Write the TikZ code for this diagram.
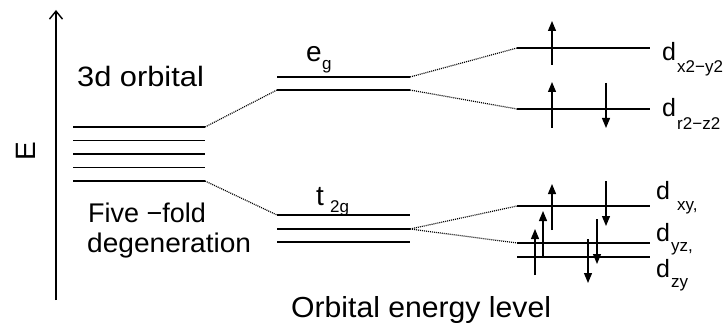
\documentclass[tikz,border=0pt]{standalone}
\usepackage{fontspec}
\setmainfont{Liberation Sans}
\newfontfamily\widefont[FakeStretch=1.1]{Liberation Sans}
\newfontfamily\midfont[FakeStretch=1.04]{Liberation Sans}
\usetikzlibrary{arrows.meta}
\begin{document}
\begin{tikzpicture}[x=1pt,y=-1pt,
  level/.style={line width=1.4pt},
  conn/.style={line width=1.2pt,dash pattern=on 1pt off 1pt},
  spin/.style={line width=1.2pt,-{Triangle[width=8pt,length=10pt]}},
  lbl/.style={anchor=base west,inner sep=0pt,font=\fontsize{27}{30}\selectfont},
  dlbl/.style={anchor=base west,inner sep=0pt,font=\fontsize{25}{28}\selectfont},
  sublbl/.style={anchor=base west,inner sep=0pt,font=\fontsize{17}{19}\selectfont}]
\useasboundingbox (0,0) rectangle (728,326);
% energy axis
\coordinate (ax0) at (56,300);
\coordinate (ax1) at (56,10);
\draw[line width=1.4pt,-{Straight Barb[width=13pt,length=8pt,line width=1.4pt]}] (ax0) -- (ax1);
\node[rotate=90,inner sep=0pt,font=\fontsize{28}{30}\selectfont] (E) at (26,151) {E};
% five degenerate levels
\foreach \i in {0,...,4}{
  \coordinate (f\i L) at (73,{127+13.5*\i});
  \coordinate (f\i R) at (205,{127+13.5*\i});
  \draw[level] (f\i L) -- (f\i R);
}
\node[lbl,font=\widefont\fontsize{28}{30}\selectfont] (t3d) at (77,87) {3d orbital};
\node[lbl] (tfive) at (88,222) {Five −fold};
\node[lbl,font=\midfont\fontsize{27}{30}\selectfont] (tdeg) at (87,252) {degeneration};
% eg levels
\coordinate (eg1L) at (277,77); \coordinate (eg1R) at (410,77);
\coordinate (eg2L) at (277,90); \coordinate (eg2R) at (410,90);
\draw[level] (eg1L) -- (eg1R);
\draw[level] (eg2L) -- (eg2R);
\node[lbl,font=\fontsize{28}{30}\selectfont] (teg) at (306,62) {e};
\node[sublbl] (tegs) at (322,70) {g};
% t2g levels
\coordinate (t1L) at (277,215); \coordinate (t1R) at (410,215);
\coordinate (t2L) at (277,229); \coordinate (t2R) at (410,229);
\coordinate (t3L) at (277,242); \coordinate (t3R) at (410,242);
\draw[level] (t1L) -- (t1R);
\draw[level] (t2L) -- (t2R);
\draw[level] (t3L) -- (t3R);
\node[lbl,font=\fontsize{28}{30}\selectfont] (tt) at (316,205) {t};
\node[sublbl] (tts) at (330,212) {2g};
% right levels
\coordinate (r1L) at (517,48);  \coordinate (r1R) at (650,48);
\coordinate (r2L) at (517,109); \coordinate (r2R) at (650,109);
\coordinate (r3L) at (517,206); \coordinate (r3R) at (650,206);
\coordinate (r4L) at (517,243); \coordinate (r4R) at (650,243);
\coordinate (r5L) at (517,257); \coordinate (r5R) at (650,257);
\foreach \k in {1,...,5}{\draw[level] (r\k L) -- (r\k R);}
% dotted connectors
\draw[conn] (f0R) -- (eg2L);
\draw[conn] (f4R) -- (t1L);
\draw[conn] (eg1R) -- (r1L);
\draw[conn] (eg2R) -- (r2L);
\draw[conn] (t2R) -- (r3L);
\draw[conn] (t2R) -- (r4L);
% spins
\coordinate (s1a) at (552,65);  \coordinate (s1b) at (552,21);
\draw[spin] (s1a) -- (s1b);
\coordinate (s2a) at (552,128); \coordinate (s2b) at (552,82);
\draw[spin] (s2a) -- (s2b);
\coordinate (s3a) at (606,83);  \coordinate (s3b) at (606,128);
\draw[spin] (s3a) -- (s3b);
\coordinate (s4a) at (552,230); \coordinate (s4b) at (552,184);
\draw[spin] (s4a) -- (s4b);
\coordinate (s5a) at (606,181); \coordinate (s5b) at (606,226);
\draw[spin] (s5a) -- (s5b);
\coordinate (s6a) at (543,257); \coordinate (s6b) at (543,211);
\draw[spin] (s6a) -- (s6b);
\coordinate (s7a) at (597,219); \coordinate (s7b) at (597,264);
\draw[spin] (s7a) -- (s7b);
\coordinate (s8a) at (535,275); \coordinate (s8b) at (535,229);
\draw[spin] (s8a) -- (s8b);
\coordinate (s9a) at (588,239); \coordinate (s9b) at (588,283);
\draw[spin] (s9a) -- (s9b);
% right labels
\node[dlbl] (d1) at (662,61) {d};
\node[sublbl] (d1s) at (677,73) {x2−y2};
\node[dlbl] (d2) at (662,117) {d};
\node[sublbl] (d2s) at (677,130) {r2−z2};
\node[dlbl] (d3) at (656,199) {d};
\node[sublbl] (d3s) at (677,210) {xy,};
\node[dlbl] (d4) at (656,241) {d};
\node[sublbl] (d4s) at (671,251) {yz,};
\node[dlbl] (d5) at (656,277) {d};
\node[sublbl] (d5s) at (671,287) {zy};
% bottom title
\node[lbl,font=\midfont\fontsize{29}{31}\selectfont] (title) at (291,317) {Orbital energy level};
\end{tikzpicture}
\end{document}
